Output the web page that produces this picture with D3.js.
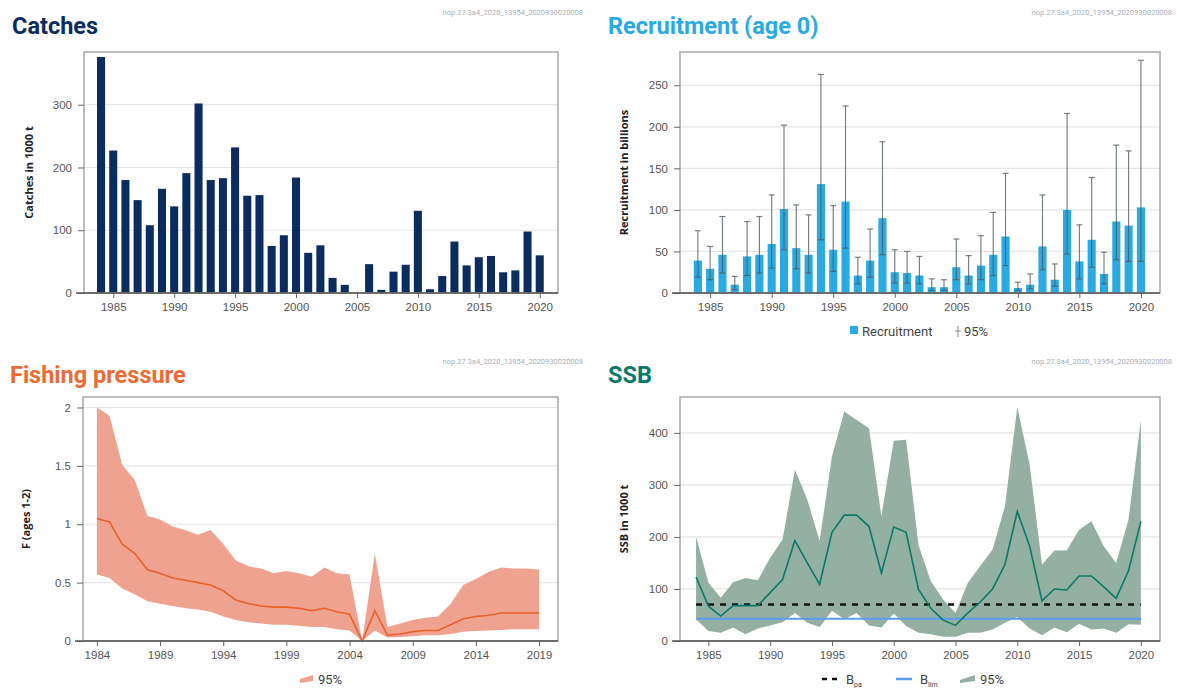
<!DOCTYPE html>
<html>
<head>
<meta charset="utf-8">
<script src="https://cdn.jsdelivr.net/npm/d3@7"></script>
<style>
body { margin:0; background:#fff; }
svg { font-family: Roboto, "Open Sans", sans-serif; }
.tick text { fill:#555; font-size:11.5px; }
</style>
</head>
<body>
<svg id="chart" width="1177" height="688"></svg>
<script>
// data
var years = [1984,1985,1986,1987,1988,1989,1990,1991,1992,1993,1994,1995,1996,1997,1998,1999,2000,2001,2002,2003,2004,2005,2006,2007,2008,2009,2010,2011,2012,2013,2014,2015,2016,2017,2018,2019,2020];
var fYears = years.slice(0, 36);
var yearTicks = [1985,1990,1995,2000,2005,2010,2015,2020];
var fYearTicks = [1984,1989,1994,1999,2004,2009,2014,2019];

var catches = [376,227,180,148,108,166,138,191,302,180,183,232,155,156,75,92,184,64,76,24,13,0,46,5,34,45,131,6,27,82,44,57,59,33,36,98,60];

var recruit = [39,29,46,10,44,46,59,101,54,46,131,52,110,21,39,90,25,24,21,7,7,31,21,33,46,68,6,10,56,16,100,38,64,23,86,81,103];
var recruitHi = [75,56,92,20,86,92,118,202,106,94,263,105,225,43,77,182,52,50,44,17,16,65,45,69,97,144,13,23,118,35,216,82,139,49,178,171,280];
var recruitLo = [19,16,24,4,21,24,30,52,29,24,64,26,54,11,19,46,12,12,11,3,3,16,11,16,21,33,3,5,28,8,47,17,31,11,40,38,38];

var fMean = [1.05,1.02,0.83,0.75,0.61,0.58,0.54,0.52,0.50,0.48,0.43,0.35,0.32,0.30,0.29,0.29,0.28,0.26,0.28,0.25,0.23,0.00,0.26,0.05,0.06,0.08,0.09,0.09,0.14,0.19,0.21,0.22,0.24,0.24,0.24,0.24];
var fHi = [2.00,1.93,1.51,1.38,1.07,1.04,0.98,0.95,0.91,0.95,0.83,0.69,0.64,0.62,0.58,0.60,0.58,0.55,0.63,0.58,0.57,0.00,0.75,0.12,0.15,0.18,0.20,0.21,0.32,0.48,0.53,0.59,0.63,0.62,0.62,0.61];
var fLo = [0.57,0.54,0.45,0.40,0.34,0.32,0.30,0.28,0.27,0.25,0.21,0.18,0.16,0.15,0.14,0.14,0.13,0.12,0.12,0.10,0.09,0.00,0.09,0.03,0.035,0.04,0.05,0.05,0.06,0.08,0.085,0.09,0.095,0.10,0.10,0.10];

var ssb = [123,67,48,68,68,68,93,118,193,150,109,209,242,242,220,131,219,209,99,63,40,30,54,75,100,147,249,182,77,100,98,125,125,104,82,135,230];
var ssbHi = [201,112,83,113,121,117,160,195,329,272,192,355,441,425,409,240,385,387,185,115,80,54,112,144,176,259,450,339,147,174,174,214,230,182,150,233,425];
var ssbLo = [42,19,16,26,13,24,30,36,54,35,27,58,42,54,30,26,53,29,16,13,8,8,16,16,22,35,46,24,11,26,17,33,22,24,16,32,31];
var bpa = 70;
var blim = 43;

var sourceLabel = "nop.27.3a4_2020_13954_2020930020008";

var svg = d3.select("#chart");

function panel(o) {
	var g = svg.append("g").attr("transform", "translate(" + o.left + "," + o.top + ")");
	var x = d3.scaleLinear().domain(o.xDomain).range([0, o.w]);
	var y = d3.scaleLinear().domain(o.yDomain).range([o.h, 0]);

	// grid
	g.append("g").selectAll("line").data(o.yTicks).enter().append("line")
		.attr("x1", 0).attr("x2", o.w)
		.attr("y1", function(d){ return y(d); }).attr("y2", function(d){ return y(d); })
		.attr("stroke", "#e6e6e6").attr("stroke-width", 1.2);

	// title + source
	svg.append("text").attr("x", o.titleX).attr("y", o.titleY)
		.attr("fill", o.titleColor).attr("font-size", 23.5).attr("font-weight", 700)
		.text(o.title);
	svg.append("text").attr("x", o.srcX).attr("y", o.titleY - 19)
		.attr("text-anchor", "end").attr("fill", "#a9afbb").attr("font-size", 7.5).text(sourceLabel);

	// y label
	g.append("text").attr("transform", "translate(" + o.yLabelX + "," + (o.h / 2) + ") rotate(-90)")
		.attr("text-anchor", "middle").attr("font-size", 11).attr("font-weight", 700)
		.attr("font-family", "'Open Sans', sans-serif")
		.attr("fill", "#222").text(o.yLabel);

	return {g: g, x: x, y: y, o: o};
}

function finish(p) {
	var g = p.g, o = p.o;
	g.append("rect").attr("width", o.w).attr("height", o.h)
		.attr("fill", "none").attr("stroke", "#a8a8a8").attr("stroke-width", 1.5);

	var ya = g.append("g").call(d3.axisLeft(p.y).tickValues(o.yTicks).tickFormat(o.yFormat || d3.format("d")).tickSize(6).tickPadding(6));
	ya.select(".domain").remove();
	ya.selectAll(".tick line").attr("stroke", "#666");

	var xa = g.append("g").attr("transform", "translate(0," + o.h + ")")
		.call(d3.axisBottom(p.x).tickValues(o.xTicks).tickFormat(d3.format("d")).tickSize(5).tickPadding(5));
	xa.select(".domain").remove();
	xa.selectAll(".tick line").attr("stroke", "#666");
	g.append("line").attr("x1", -8).attr("x2", o.w).attr("y1", o.h).attr("y2", o.h)
		.attr("stroke", "#555").attr("stroke-width", 1.5);
}

// ---- Catches
var pc = panel({left: 84, top: 52, w: 474, h: 241, xDomain: [1982.6, 2021.5], yDomain: [0, 384],
	yTicks: [0, 100, 200, 300], xTicks: yearTicks, title: "Catches", titleColor: "#0b2c5e",
	titleX: 12, titleY: 34, srcX: 583, yLabel: "Catches in 1000 t", yLabelX: -51});
pc.g.selectAll("rect.bar").data(catches).enter().append("rect").attr("class", "bar")
	.attr("x", function(d, i){ return pc.x(years[i] - 0.33); })
	.attr("width", pc.x(1984.66) - pc.x(1984))
	.attr("y", function(d){ return pc.y(d); })
	.attr("height", function(d){ return pc.y(0) - pc.y(d); })
	.attr("fill", "#0b2c5e");
finish(pc);

// ---- Recruitment
var pr = panel({left: 680, top: 52, w: 480, h: 241, xDomain: [1982.55, 2021.55], yDomain: [0, 290],
	yTicks: [0, 50, 100, 150, 200, 250], xTicks: yearTicks, title: "Recruitment (age 0)", titleColor: "#2aaae2",
	titleX: 608, titleY: 34, srcX: 1172, yLabel: "Recruitment in billions", yLabelX: -52});
pr.g.selectAll("rect.bar").data(recruit).enter().append("rect").attr("class", "bar")
	.attr("x", function(d, i){ return pr.x(years[i] - 0.33); })
	.attr("width", pr.x(1984.66) - pr.x(1984))
	.attr("y", function(d){ return pr.y(d); })
	.attr("height", function(d){ return pr.y(0) - pr.y(d); })
	.attr("fill", "#2aaae2");
var eb = pr.g.selectAll("g.err").data(years).enter().append("g").attr("class", "err")
	.attr("stroke", "#4a5a60").attr("stroke-opacity", 0.75).attr("stroke-width", 1.2);
eb.append("line")
	.attr("x1", function(d){ return pr.x(d); }).attr("x2", function(d){ return pr.x(d); })
	.attr("y1", function(d, i){ return pr.y(recruitLo[i]); }).attr("y2", function(d, i){ return pr.y(recruitHi[i]); });
eb.append("line")
	.attr("x1", function(d){ return pr.x(d) - 3; }).attr("x2", function(d){ return pr.x(d) + 3; })
	.attr("y1", function(d, i){ return pr.y(recruitHi[i]); }).attr("y2", function(d, i){ return pr.y(recruitHi[i]); });
eb.append("line")
	.attr("x1", function(d){ return pr.x(d) - 3; }).attr("x2", function(d){ return pr.x(d) + 3; })
	.attr("y1", function(d, i){ return pr.y(recruitLo[i]); }).attr("y2", function(d, i){ return pr.y(recruitLo[i]); });
finish(pr);
var lg = svg.append("g").attr("transform", "translate(850,336)").attr("font-size", 13).attr("fill", "#444");
lg.append("rect").attr("x", 0).attr("y", -10).attr("width", 8).attr("height", 8).attr("fill", "#2aaae2");
lg.append("text").attr("x", 12).attr("y", 0).text("Recruitment");
lg.append("line").attr("x1", 108).attr("x2", 108).attr("y1", -10).attr("y2", 1).attr("stroke", "#888");
lg.append("line").attr("x1", 105).attr("x2", 111).attr("y1", -5).attr("y2", -5).attr("stroke", "#888");
lg.append("text").attr("x", 114).attr("y", 0).text("95%");

// ---- Fishing pressure
var pf = panel({left: 83, top: 397, w: 475, h: 244, xDomain: [1982.9, 2020.5], yDomain: [0, 2.09],
	yTicks: [0, 0.5, 1, 1.5, 2], xTicks: fYearTicks, title: "Fishing pressure", titleColor: "#ee6a35",
	titleX: 10, titleY: 383, srcX: 583, yLabel: "F (ages 1-2)", yLabelX: -53, yFormat: d3.format("")});
pf.g.append("path").datum(fYears)
	.attr("d", d3.area().x(function(d){ return pf.x(d); })
		.y0(function(d, i){ return pf.y(fLo[i]); }).y1(function(d, i){ return pf.y(fHi[i]); }))
	.attr("fill", "#f0a290");
pf.g.append("path").datum(fYears)
	.attr("d", d3.line().x(function(d){ return pf.x(d); }).y(function(d, i){ return pf.y(fMean[i]); }))
	.attr("fill", "none").attr("stroke", "#e8602a").attr("stroke-width", 1.6);
finish(pf);
var lf = svg.append("g").attr("transform", "translate(300,684)").attr("font-size", 13).attr("fill", "#444");
lf.append("path").attr("d", "M0,-1 L13,-3 L13,-9 L0,-5 Z").attr("fill", "#f0a290");
lf.append("text").attr("x", 18).attr("y", 0).text("95%");

// ---- SSB
var ps = panel({left: 680, top: 397, w: 480, h: 244, xDomain: [1982.7, 2021.55], yDomain: [0, 469],
	yTicks: [0, 100, 200, 300, 400], xTicks: yearTicks, title: "SSB", titleColor: "#0a7a68",
	titleX: 608, titleY: 383, srcX: 1172, yLabel: "SSB in 1000 t", yLabelX: -52});
ps.g.append("path").datum(years)
	.attr("d", d3.area().x(function(d){ return ps.x(d); })
		.y0(function(d, i){ return ps.y(ssbLo[i]); }).y1(function(d, i){ return ps.y(ssbHi[i]); }))
	.attr("fill", "#94b0a2");
ps.g.append("line").attr("x1", ps.x(years[0])).attr("x2", ps.x(years[years.length - 1]))
	.attr("y1", ps.y(blim)).attr("y2", ps.y(blim)).attr("stroke", "#5b9cf0").attr("stroke-width", 2);
ps.g.append("line").attr("x1", ps.x(years[0])).attr("x2", ps.x(years[years.length - 1]))
	.attr("y1", ps.y(bpa)).attr("y2", ps.y(bpa)).attr("stroke", "#111").attr("stroke-width", 2.5)
	.attr("stroke-dasharray", "6,6");
ps.g.append("path").datum(years)
	.attr("d", d3.line().x(function(d){ return ps.x(d); }).y(function(d, i){ return ps.y(ssb[i]); }))
	.attr("fill", "none").attr("stroke", "#0a7a68").attr("stroke-width", 1.6);
finish(ps);
var ls = svg.append("g").attr("transform", "translate(822,684)").attr("font-size", 13).attr("fill", "#444");
ls.append("line").attr("x1", 0).attr("x2", 16).attr("y1", -5).attr("y2", -5).attr("stroke", "#111")
	.attr("stroke-width", 2.5).attr("stroke-dasharray", "5,5");
ls.append("text").attr("x", 24).attr("y", 0).text("B").append("tspan").attr("dy", 3).attr("font-size", 7).text("pa");
ls.append("line").attr("x1", 74).attr("x2", 90).attr("y1", -5).attr("y2", -5).attr("stroke", "#5b9cf0").attr("stroke-width", 2.5);
ls.append("text").attr("x", 98).attr("y", 0).text("B").append("tspan").attr("dy", 3).attr("font-size", 7).text("lim");
ls.append("path").attr("d", "M138,-1 L153,-3 L153,-9 L138,-4 Z").attr("fill", "#94b0a2");
ls.append("text").attr("x", 158).attr("y", 0).text("95%");
</script>
</body>
</html>
